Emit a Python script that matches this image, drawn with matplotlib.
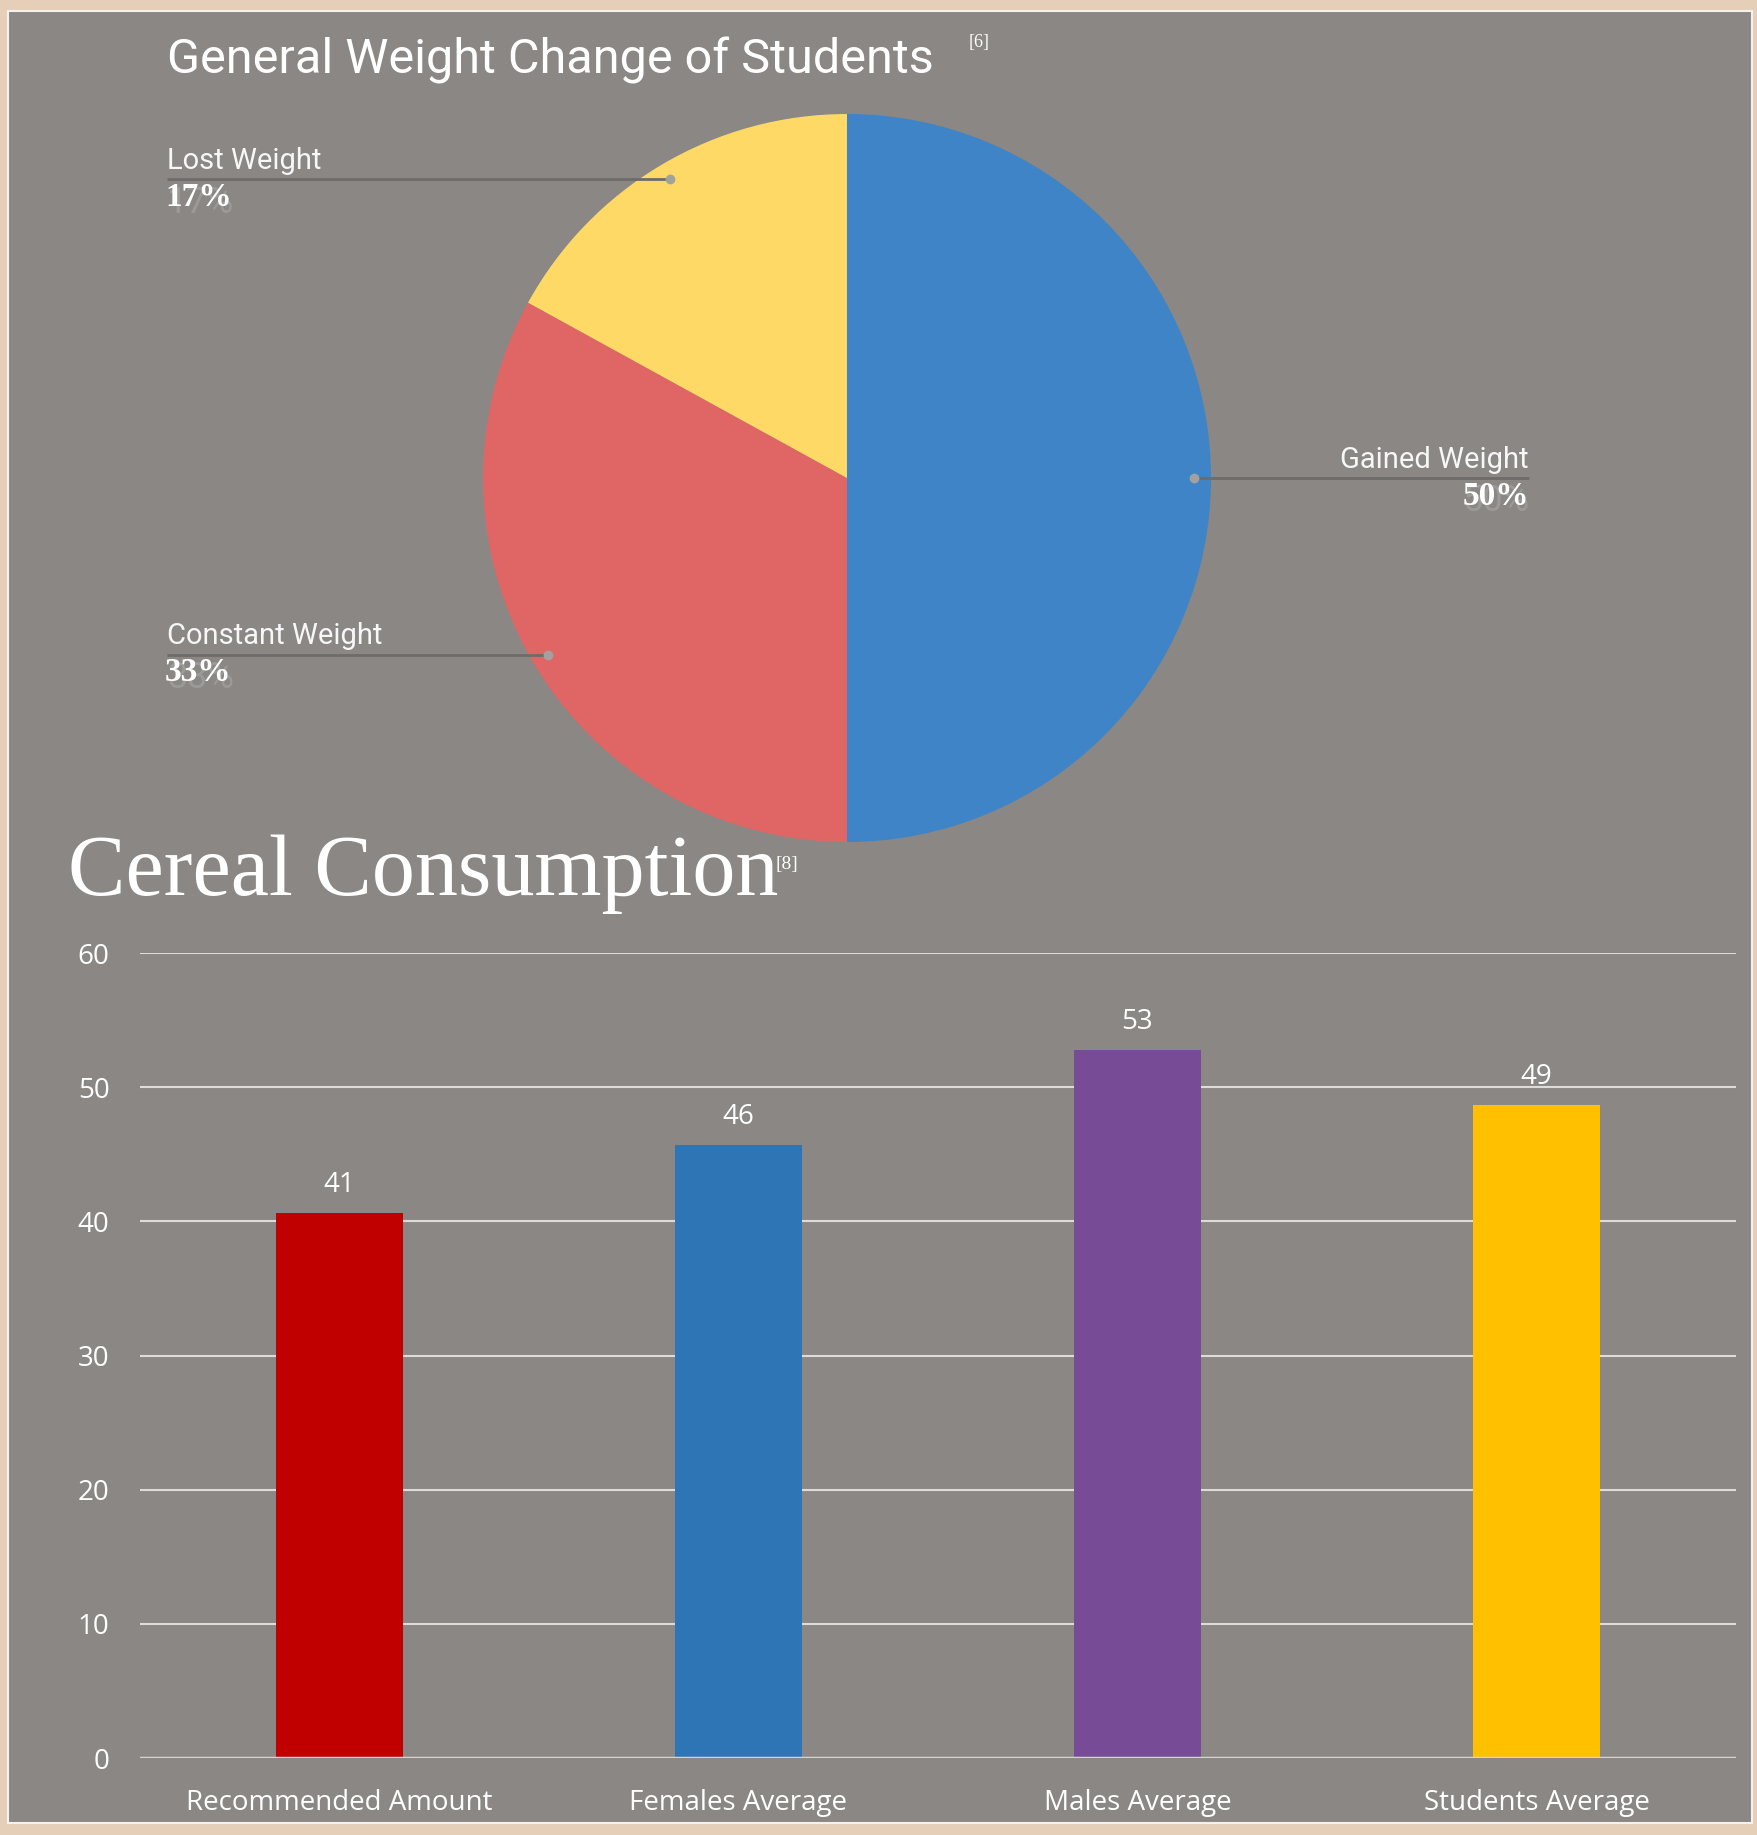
import numpy as np
import matplotlib.pyplot as plt
from matplotlib.patches import Rectangle

# pie data (clockwise from 12 o'clock)
PIE_LABELS = ['Gained Weight', 'Constant Weight', 'Lost Weight']
PIE_VALUES = [50, 33, 17]
PIE_COLORS = ['#3e84c6', '#e06666', '#fed966']

# bar data
BAR_CATS = ['Recommended Amount', 'Females Average', 'Males Average', 'Students Average']
BAR_VALUES = [40.6, 45.7, 52.8, 48.7]
BAR_COLORS = ['#c00000', '#2e75b6', '#774b96', '#ffc000']
Y_TICKS = [0, 10, 20, 30, 40, 50, 60]

W, H = 1758, 1835
PANEL = '#8a8784'
TXT = 'white'

fig = plt.figure(figsize=(W / 100, H / 100), dpi=100)
fig.patch.set_facecolor('#e6cfb8')


def fx(px):
  return px / W


def fy(py):
  # pixel rows are counted from the top
  return 1 - py / H


# grey panel with thin white border, behind everything
fig.patches.append(Rectangle((fx(8), fy(1823)), fx(1744), 1812 / H, transform=fig.transFigure,
                             facecolor=PANEL, edgecolor='#f4f1ee', linewidth=1.5, zorder=-5))

# ---------- pie ----------
cx, cy, R = 847, 478, 364
ax_pie = fig.add_axes([fx(cx - R), fy(cy + R), 2 * R / W, 2 * R / H])
wedges, _ = ax_pie.pie(PIE_VALUES, colors=PIE_COLORS, startangle=90, counterclock=False,
                       radius=1, wedgeprops=dict(linewidth=0))
ax_pie.set_xlim(-1, 1)
ax_pie.set_ylim(-1, 1)
ax_pie.axis('off')

label_x_left = (167 - cx) / R
label_x_right = (1529 - cx) / R
for w, lab, val in zip(wedges, PIE_LABELS, PIE_VALUES):
  mid = np.deg2rad((w.theta1 + w.theta2) / 2)
  dx, dy = 0.953 * np.cos(mid), 0.953 * np.sin(mid)
  right = dx > 0.5
  lx = label_x_right if right else label_x_left
  ha = 'right' if right else 'left'
  ax_pie.plot([dx, lx], [dy, dy], color='#6e6c6a', lw=2, clip_on=False, solid_capstyle='butt')
  ax_pie.plot([dx], [dy], 'o', color='#a3a19e', ms=6, clip_on=False)
  ax_pie.text(lx, dy + 0.012, lab, ha=ha, va='bottom', color='#f7f7f7', fontsize=21,
              family='Roboto', clip_on=False)
  # faint original percentage behind the bold one
  ax_pie.text(lx, dy - 0.014, f'{val}%', ha=ha, va='top',
              color='#9c9a97', fontsize=26, family='Roboto', clip_on=False)
  ax_pie.text(lx - (0.0 if right else 0.005), dy - 0.008, f'{val}%', ha=ha, va='top',
              color=TXT, fontsize=24, family='Liberation Serif', fontweight='bold', clip_on=False)

fig.text(fx(167), fy(73), 'General Weight Change of Students', color=TXT, fontsize=35,
         family='Roboto', va='baseline', ha='left')
fig.text(fx(969), fy(43), '[6]', color=TXT, fontsize=13, family='Liberation Serif',
         va='center', ha='left')

# ---------- bars ----------
fig.text(fx(68), fy(895), 'Cereal Consumption', color=TXT, fontsize=62,
         family='Liberation Serif', va='baseline', ha='left')
fig.text(fx(776), fy(864), '[8]', color=TXT, fontsize=14, family='Liberation Serif',
         va='center', ha='left')

ax = fig.add_axes([fx(140), fy(1758), (1736 - 140) / W, (1758 - 953) / H])
ax.set_facecolor('none')
x = np.arange(len(BAR_CATS))
bars = ax.bar(x, BAR_VALUES, width=0.316, color=BAR_COLORS, zorder=2)
ax.bar_label(bars, labels=[f'{v:.0f}' for v in BAR_VALUES], padding=10, color=TXT,
             fontsize=20, family='Open Sans')
ax.set_xlim(-0.5, len(BAR_CATS) - 0.5)
ax.set_ylim(0, 60)
ax.set_yticks(Y_TICKS)
for t in Y_TICKS[1:]:
  ax.axhline(t, color='#dedcda', lw=1.5, zorder=1)
ax.axhline(0, color='#d6d4d2', lw=2.5, zorder=3)
ax.set_xticks(x)
ax.set_xticklabels(BAR_CATS)
ax.tick_params(length=0, colors=TXT, labelsize=20)
ax.tick_params(axis='y', pad=22)
ax.tick_params(axis='x', pad=22)
for lbl in ax.get_xticklabels() + ax.get_yticklabels():
  lbl.set_family('Open Sans')
for s in ax.spines.values():
  s.set_visible(False)

fig.savefig('out.png', dpi=100, facecolor=fig.get_facecolor())
